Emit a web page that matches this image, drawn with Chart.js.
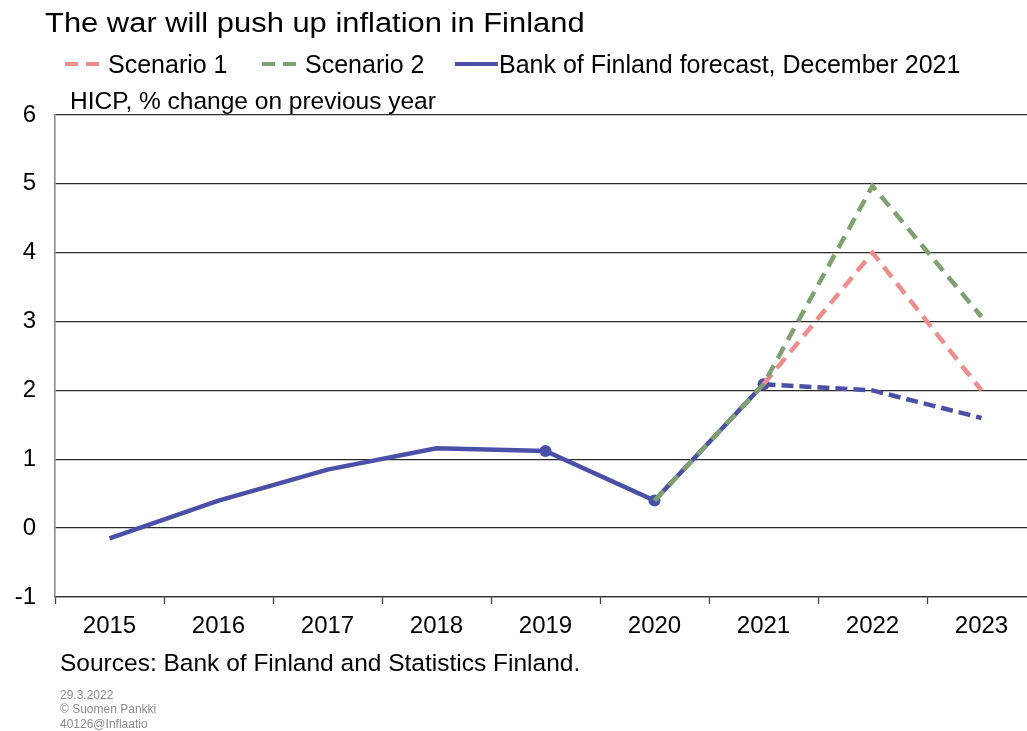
<!DOCTYPE html>
<html>
<head>
<meta charset="utf-8">
<title>The war will push up inflation in Finland</title>
<script src="https://cdn.jsdelivr.net/npm/chart.js@4/dist/chart.umd.min.js"></script>
<style>
  html, body { margin: 0; padding: 0; background: #fff; overflow: hidden; }
  #wrap { position: relative; width: 1040px; height: 731px; }
</style>
</head>
<body>
<div id="wrap"><canvas id="inflation"></canvas></div>
<script>
'use strict';

// HICP, % change on previous year
var years = ['2015', '2016', '2017', '2018', '2019', '2020', '2021', '2022', '2023'];
var bankForecast = [-0.15, 0.4, 0.85, 1.16, 1.12, 0.4, 2.09, 2.0, 1.6];
var scenario1 = [null, null, null, null, null, null, 2.09, 4.0, 2.0];
var scenario2 = [null, null, null, null, null, 0.4, 2.09, 4.97, 3.07];
var markedYears = ['2019', '2020', '2021'];
var yMin = -1;
var yMax = 6;

var seriesNames = ['Scenario 1', 'Scenario 2', 'Bank of Finland forecast, December 2021'];
var BLUE = '#4a4fa8';
var PINK = '#f08c8c';
var GREEN = '#7fa06f';
var FONT = '"Liberation Sans", Arial, sans-serif';

// Title, legend, unit and source texts drawn around the plot
var textPlugin = {
  id: 'texts',
  afterDraw: function (chart) {
    var ctx = chart.ctx;
    ctx.save();
    ctx.textBaseline = 'alphabetic';
    ctx.fillStyle = '#000';

    // title is a little wider than plain Arial in the original
    ctx.save();
    ctx.translate(45, 32);
    ctx.scale(1.145, 1);
    ctx.font = '27px ' + FONT;
    ctx.fillText('The war will push up inflation in Finland', 0, 0);
    ctx.restore();

    // legend
    var legendY = 64;
    var items = [
      {x: 65, w: 36, color: PINK, dash: [13, 8], text: seriesNames[0], tx: 108},
      {x: 262, w: 36, color: GREEN, dash: [13, 8], text: seriesNames[1], tx: 305},
      {x: 455, w: 43, color: BLUE, dash: [], text: seriesNames[2], tx: 499}
    ];
    items.forEach(function (item) {
      ctx.beginPath();
      ctx.setLineDash(item.dash);
      ctx.lineWidth = 4;
      ctx.strokeStyle = item.color;
      ctx.moveTo(item.x, legendY);
      ctx.lineTo(item.x + item.w, legendY);
      ctx.stroke();
      ctx.setLineDash([]);
      ctx.font = '25px ' + FONT;
      ctx.fillText(item.text, item.tx, legendY + 9);
    });

    ctx.font = '24.5px ' + FONT;
    ctx.fillText('HICP, % change on previous year', 70, 109);

    ctx.font = '24.5px ' + FONT;
    ctx.fillText('Sources: Bank of Finland and Statistics Finland.', 60, 671);

    ctx.fillStyle = '#8c8c8c';
    ctx.font = '12px ' + FONT;
    ctx.fillText('29.3.2022', 60, 699);
    ctx.fillText('\u00a9 Suomen Pankki', 60, 713);
    ctx.fillText('40126@Inflaatio', 60, 728);
    ctx.restore();
  }
};

var ctx = document.getElementById('inflation');

var chart = new Chart(ctx, {
  type: 'line',
  data: {
    labels: years,
    datasets: [
      {
        label: seriesNames[0],
        data: scenario1,
        borderColor: PINK,
        borderWidth: 4.5,
        borderDash: [13, 8],
        pointRadius: 0,
        order: 1
      },
      {
        label: seriesNames[1],
        data: scenario2,
        borderColor: GREEN,
        borderWidth: 4.5,
        borderDash: [13, 8],
        pointRadius: 0,
        order: 0
      },
      {
        label: seriesNames[2],
        data: bankForecast,
        borderColor: BLUE,
        backgroundColor: BLUE,
        borderWidth: 4.5,
        pointRadius: years.map(function (y) { return markedYears.indexOf(y) >= 0 ? 6 : 0; }),
        pointBorderWidth: 0,
        order: 2,
        segment: {
          // forecast after 2021 is dashed
          borderDash: function (c) { return c.p0DataIndex >= years.indexOf('2021') ? [12, 6] : undefined; }
        }
      }
    ]
  },
  options: {
    responsive: true,
    maintainAspectRatio: false,
    animation: false,
    devicePixelRatio: 1,
    layout: {
      padding: {left: 0, right: 4, top: 115, bottom: 84}
    },
    plugins: {
      legend: {display: false},
      title: {display: false},
      tooltip: {enabled: false}
    },
    scales: {
      x: {
        offset: true,
        afterFit: function (s) { s.height = 50; },
        grid: {
          offset: true,
          drawOnChartArea: false,
          drawTicks: true,
          tickLength: 7,
          tickWidth: 1.3,
          tickColor: '#444'
        },
        border: {display: true, color: '#333', width: 1.3},
        ticks: {
          color: '#000',
          font: {family: FONT, size: 24},
          padding: 8,
          maxRotation: 0
        }
      },
      y: {
        min: yMin,
        max: yMax,
        afterFit: function (s) { s.width = 55; },
        grid: {
          color: '#2b2b2b',
          lineWidth: 1.3,
          drawTicks: false
        },
        border: {display: true, color: '#8a8a8a', width: 1.6},
        ticks: {
          stepSize: 1,
          color: '#000',
          font: {family: FONT, size: 24},
          padding: 19
        }
      }
    }
  },
  plugins: [textPlugin]
});
</script>
</body>
</html>
